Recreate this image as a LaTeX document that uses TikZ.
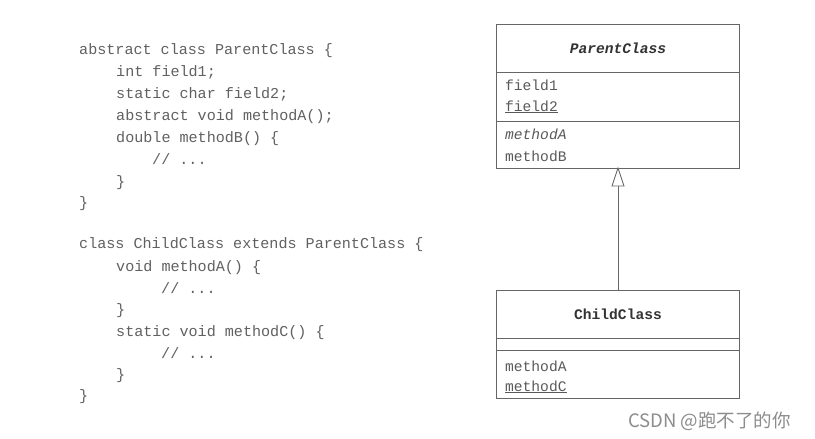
\documentclass[tikz,border=0pt]{standalone}
\usepackage{fontspec}
\setmonofont{Liberation Mono}
\newfontfamily\cjk{Noto Sans CJK SC}
\begin{document}
\begin{tikzpicture}[x=1pt,y=-1pt,
  codeline/.style={anchor=base west,inner sep=0pt,text=black!62,font=\fontsize{15.1}{18}\selectfont\ttfamily},
  umltext/.style={anchor=base west,inner sep=0pt,text=black!65,font=\fontsize{14.6}{18}\selectfont\ttfamily},
  umltitle/.style={anchor=base,inner sep=0pt,text=black!80,font=\fontsize{14.6}{18}\selectfont\ttfamily\bfseries},
  umlbox/.style={draw=black!60,line width=0.9pt},
  umlline/.style={draw=black!60,line width=0.9pt},
  genarrow/.style={draw=black!60,line width=0.9pt}
]
\path[fill=white] (0,0) rectangle (815,439);
\useasboundingbox (0,0) rectangle (815,439);

% ---- code block 1
\node[codeline] (p1) at (79,54) {abstract class ParentClass \{};
\node[codeline] (p2) at (116,76) {int field1;};
\node[codeline] (p3) at (116,98) {static char field2;};
\node[codeline] (p4) at (116,120) {abstract void methodA();};
\node[codeline] (p5) at (116,142) {double methodB() \{};
\node[codeline] (p6) at (152,164) {// ...};
\node[codeline] (p7) at (116,186) {\}};
\node[codeline] (p8) at (79,207) {\}};

% ---- code block 2
\node[codeline] (c1) at (79,248) {class ChildClass extends ParentClass \{};
\node[codeline] (c2) at (116,271) {void methodA() \{};
\node[codeline] (c3) at (161,293) {// ...};
\node[codeline] (c4) at (116,314) {\}};
\node[codeline] (c5) at (116,336) {static void methodC() \{};
\node[codeline] (c6) at (161,358) {// ...};
\node[codeline] (c7) at (116,379) {\}};
\node[codeline] (c8) at (79,400) {\}};

% ---- ParentClass box
\coordinate (pTL) at (496,24);
\coordinate (pBR) at (739,168);
\draw[umlbox] (pTL) rectangle (pBR);
\draw[umlline] (496,72) -- (739,72);
\draw[umlline] (496,121) -- (739,121);
\node[umltitle] (ptitle) at (618,53) {\itshape ParentClass};
\node[umltext] (pf1) at (505,90) {field1};
\node[umltext] (pf2) at (505,111) {\underline{field2}};
\node[umltext] (pm1) at (505,139) {\itshape methodA};
\node[umltext] (pm2) at (505,161) {methodB};

% ---- ChildClass box
\draw[umlbox] (496,290) rectangle (739,398);
\draw[umlline] (496,338) -- (739,338);
\draw[umlline] (496,350) -- (739,350);
\node[umltitle] (ctitle) at (618,319) {ChildClass};
\node[umltext] (cm1) at (505,371) {methodA};
\node[umltext] (cm2) at (505,391) {\underline{methodC}};

% ---- generalization arrow
\coordinate (childtop) at (618,290);
\coordinate (tip) at (618,168);
\coordinate (tribase) at (618,186);
\draw[genarrow] (childtop) -- (tribase);
\draw[genarrow,fill=white,line join=miter] (tip) -- (612,186) -- (624,186) -- cycle;

% ---- watermark
\node[anchor=base west,inner sep=0pt,text=black!45,font=\cjk\fontsize{18.5}{20}\selectfont] (wm) at (628,427) {CSDN @跑不了的你};
\end{tikzpicture}
\end{document}
